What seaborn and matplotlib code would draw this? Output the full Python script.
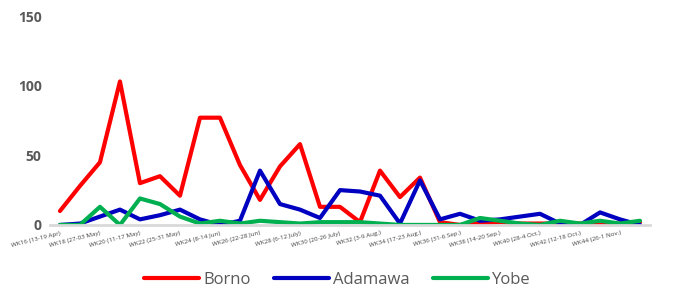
import matplotlib
matplotlib.use("Agg")
import matplotlib.pyplot as plt
import seaborn as sns
import pandas as pd

weeks = [f"WK{w}" for w in range(16, 46)]
tick_labels = [
    "WK16 (13-19 Apr)", "WK18 (27-03 May)", "WK20 (11-17 May)", "WK22 (25-31 May)",
    "WK24 (8-14 Jun)", "WK26 (22-28 Jun)", "WK28 (6-12 July)", "WK30 (20-26 July)",
    "WK32 (3-9 Aug.)", "WK34 (17-23 Aug.)", "WK36 (31-6 Sep.)", "WK38 (14-20 Sep.)",
    "WK40 (28-4 Oct.)", "WK42 (12-18 Oct.)", "WK44 (26-1 Nov.)",
]

borno = [10, 28, 45, 103, 30, 35, 21, 77, 77, 43, 18, 42, 58, 13, 13,
         2, 39, 20, 34, 2, 0, 1, 2, 1, 1, 1, 1, 0, 1, 2]
adamawa = [0, 1, 6, 11, 4, 7, 11, 4, 0, 3, 39, 15, 11, 5, 25,
           24, 21, 1, 32, 4, 8, 3, 4, 6, 8, 1, 0, 9, 4, 0]
yobe = [0, 0, 13, 0, 19, 15, 6, 1, 3, 1, 3, 2, 1, 2, 2,
        2, 1, 0, 0, 0, 0, 5, 3, 1, 0, 3, 1, 3, 1, 3]

series = {"Borno": borno, "Adamawa": adamawa, "Yobe": yobe}
colors = {"Borno": "#FF0000", "Adamawa": "#0000C0", "Yobe": "#00B050"}

rows = []
for name, vals in series.items():
    for i, v in enumerate(vals):
        rows.append({"idx": i, "week": weeks[i], "state": name, "cases": v})
df = pd.DataFrame(rows)

sns.set_style("white")
plt.rcParams["font.family"] = ["Open Sans", "DejaVu Sans"]

fig = plt.figure(figsize=(6.75, 2.91), dpi=100)
ax = fig.add_axes([0.074, 0.227, 0.889, 0.718])

sns.lineplot(data=df, x="idx", y="cases", hue="state", palette=colors,
             linewidth=3, ax=ax, legend=False)

ax.set_xlim(-0.5, len(weeks) - 0.5)
ax.set_ylim(0, 150)
ax.set_yticks([0, 50, 100, 150])
ax.tick_params(axis="y", labelsize=10, colors="#595959", length=0, pad=6)
for t in ax.get_yticklabels():
    t.set_fontweight("bold")

ax.set_xticks(range(0, len(weeks), 2))
ax.set_xticklabels(tick_labels, fontsize=4.5, color="#404040",
                   rotation=14, ha="right", rotation_mode="anchor")
ax.tick_params(axis="x", length=0, pad=4)
ax.set_xlabel("")
ax.set_ylabel("")

sns.despine(ax=ax, left=True, top=True, right=True)
ax.spines["bottom"].set_color("#D9D9D9")
ax.spines["bottom"].set_linewidth(2)

handles = [plt.Line2D([0], [0], color=colors[n], lw=3) for n in series]
fig.legend(handles, list(series.keys()), loc="lower center", ncol=3,
           bbox_to_anchor=(0.5, -0.04), frameon=False, fontsize=12,
           labelcolor="#595959", handlelength=3.3, handletextpad=0.25,
           columnspacing=1.4)

fig.savefig("out.png", dpi=100)
